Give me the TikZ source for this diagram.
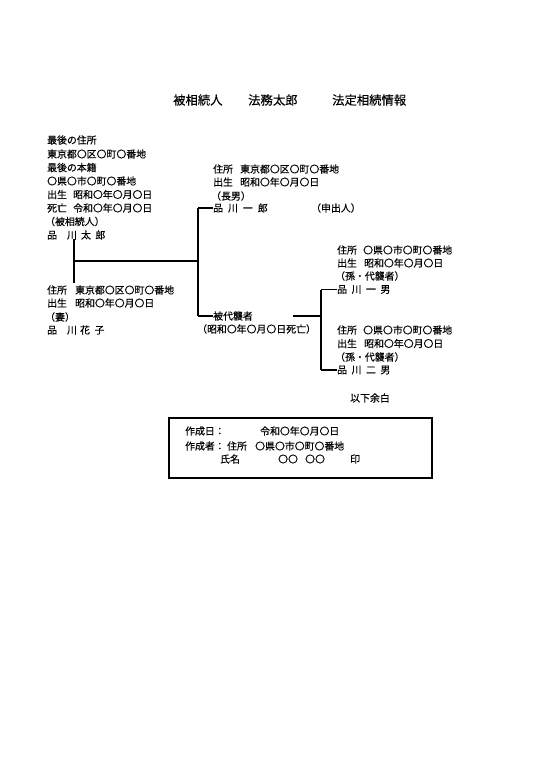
\documentclass[tikz,border=0pt]{standalone}
\usepackage{fontspec}
\setmainfont{Noto Sans CJK JP}[FakeBold=0.35]
\begin{document}
\begin{tikzpicture}[x=1.1019pt,y=-1.1019pt,
  txt/.style={anchor=west,inner sep=0pt,font=\fontsize{10.9}{13}\selectfont},
  ttl/.style={anchor=west,inner sep=0pt,font=\fontsize{13.6}{16}\selectfont},
  ln/.style={line width=1.2pt},
  bar/.style={line width=3.2pt},
  frame/.style={line width=1.6pt}]
\useasboundingbox[fill=white] (0,0) rectangle (540,764);
% title
\node[ttl] (t1) at (173,100) {被相続人};
\node[ttl] (t2) at (248,100) {法務太郎};
\node[ttl] (t3) at (332,100) {法定相続情報};
% deceased
\node[txt] (a1) at (47,140) {最後の住所};
\node[txt] (a2) at (47,154) {東京都〇区〇町〇番地};
\node[txt] (a3) at (47,167.5) {最後の本籍};
\node[txt] (a4) at (47,181) {〇県〇市〇町〇番地};
\node[txt] (a5) at (47,194.5) {出生};
\node[txt] (a5b) at (73,194.5) {昭和〇年〇月〇日};
\node[txt] (a6) at (47,208) {死亡};
\node[txt] (a6b) at (73,208) {令和〇年〇月〇日};
\node[txt] (a7) at (45,221.5) {（被相続人）};
\node[txt] (taro) at (47,235) {品\hspace{11pt}川\hspace{4.5pt}太\hspace{5pt}郎};
% spouse
\node[txt] (b1) at (47,290) {住所};
\node[txt] (b1b) at (75,290) {東京都〇区〇町〇番地};
\node[txt] (b2) at (47,303) {出生};
\node[txt] (b2b) at (75,303) {昭和〇年〇月〇日};
\node[txt] (b3) at (45,317) {（妻）};
\node[txt] (hanako) at (47,330) {品\hspace{11pt}川\hspace{3.5pt}花\hspace{5pt}子};
% eldest son
\node[txt] (c1) at (213,169) {住所};
\node[txt] (c1b) at (240,169) {東京都〇区〇町〇番地};
\node[txt] (c2) at (213,182) {出生};
\node[txt] (c2b) at (240,182) {昭和〇年〇月〇日};
\node[txt] (c3) at (211,196) {（長男）};
\node[txt] (ichiro) at (213,208) {品\hspace{5.5pt}川\hspace{5.5pt}一\hspace{5.5pt}郎};
\node[txt] (c4) at (311,208) {（申出人）};
% predeceased
\node[txt] (dai) at (213,316) {被代襲者};
\node[txt] (dai2) at (197,329) {（昭和〇年〇月〇日死亡）};
% grandchild 1
\node[txt] (g1) at (337,250) {住所};
\node[txt] (g1b) at (363,250) {〇県〇市〇町〇番地};
\node[txt] (g2) at (337,263) {出生};
\node[txt] (g2b) at (364,263) {昭和〇年〇月〇日};
\node[txt] (g3) at (335,276) {（孫・代襲者）};
\node[txt] (kazuo) at (337,289.5) {品\hspace{5pt}川\hspace{5pt}一\hspace{5pt}男};
% grandchild 2
\node[txt] (h1) at (337,330) {住所};
\node[txt] (h1b) at (363,330) {〇県〇市〇町〇番地};
\node[txt] (h2) at (337,343.5) {出生};
\node[txt] (h2b) at (364,343.5) {昭和〇年〇月〇日};
\node[txt] (h3) at (335,357) {（孫・代襲者）};
\node[txt] (jiro) at (337,370) {品\hspace{5pt}川\hspace{5pt}二\hspace{5pt}男};
\node[txt] (yohaku) at (350,398) {以下余白};
% connectors
\coordinate (bt) at (74,239);
\coordinate (bb) at (74,283);
\draw[bar] (bt) -- (bb);
\coordinate (jl) at (75,261);
\coordinate (jr) at (198,261);
\coordinate (v1) at (198,208);
\coordinate (v2) at (198,316);
\draw[ln] (jl) -- (jr);
\draw[ln] (v1) -- (v2);
\draw[ln] (v1) -- (ichiro.west);
\draw[ln] (v2) -- (dai.west);
\coordinate (d1) at (293,316);
\coordinate (d2) at (321,316);
\coordinate (w1) at (321,289.5);
\coordinate (w2) at (321,370);
\draw[ln] (d1) -- (d2);
\draw[ln] (w1) -- (w2);
\draw[ln] (w1) -- (kazuo.west);
\draw[ln] (w2) -- (jiro.west);
% box
\coordinate (f1) at (169,418);
\coordinate (f2) at (432,478);
\draw[frame] (f1) rectangle (f2);
\node[txt] (k1) at (185,431) {作成日：};
\node[txt] (k1b) at (260,431) {令和〇年〇月〇日};
\node[txt] (k2) at (185,446) {作成者：};
\node[txt] (k2b) at (227,446) {住所};
\node[txt] (k2c) at (255,446) {〇県〇市〇町〇番地};
\node[txt] (k3) at (220,459) {氏名};
\node[txt] (k3b) at (278,459) {〇〇};
\node[txt] (k3c) at (305,459) {〇〇};
\node[txt] (k3d) at (350,459) {印};
\end{tikzpicture}
\end{document}
